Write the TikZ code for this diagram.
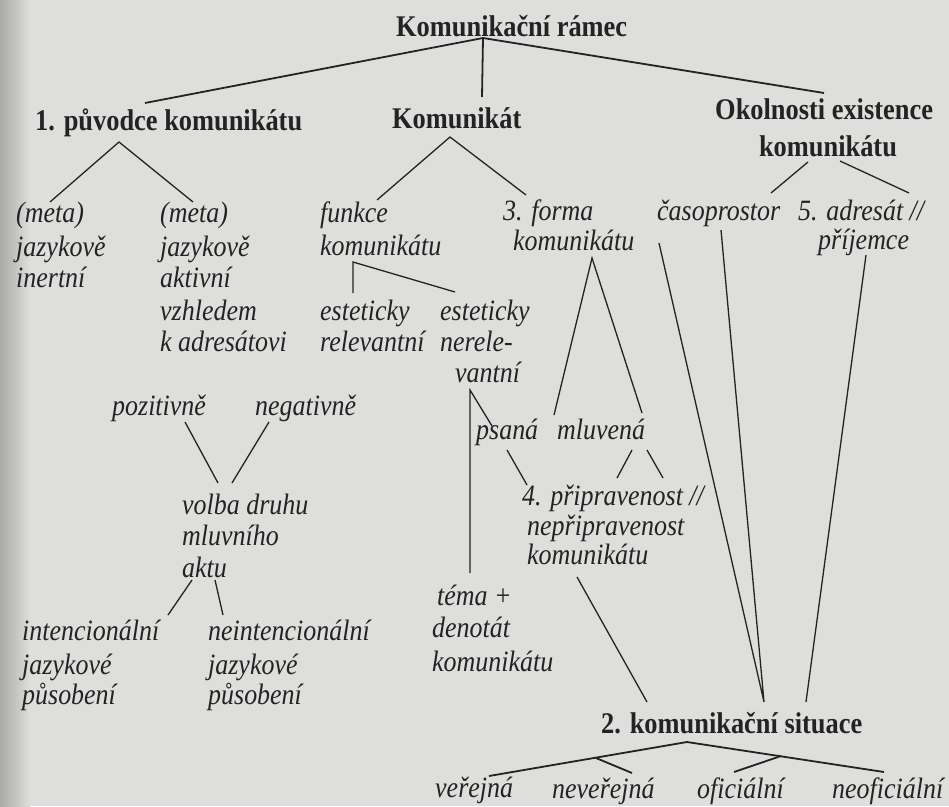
\documentclass[tikz,border=0pt]{standalone}
\usepackage{fontspec}
\setmainfont{Liberation Serif}
\newfontfamily\condserif{Liberation Serif}[FakeStretch=0.88]
\definecolor{paper}{RGB}{222,222,220}
\definecolor{shadow}{RGB}{170,170,168}
\definecolor{ink}{RGB}{35,35,35}
\tikzset{
  bt/.style={font=\condserif\fontsize{30}{34}\selectfont\bfseries, text=ink, inner sep=0pt, anchor=base west},
  it/.style={font=\condserif\fontsize{29.5}{34}\selectfont\itshape, text=ink, inner sep=0pt, anchor=base west},
  thickline/.style={draw=ink, line width=1.8pt},
  thinline/.style={draw=ink, line width=1.3pt},
}
\begin{document}
\begin{tikzpicture}[x=1pt,y=-1pt]
\useasboundingbox (0,0) rectangle (949,806);
\fill[paper] (0,0) rectangle (949,806);
\shade[left color=shadow, right color=paper] (0,0) rectangle (30,806);

% bold headings
\node[bt] (title) at (396,36) {Komunikační rámec};
\node[bt] (puv) at (35,130) {1. původce komunikátu};
\node[bt] (kom) at (392,128) {Komunikát};
\node[bt] (okol) at (715,119) {Okolnosti existence};
\node[bt, anchor=base] (okolb) at (828,156) {komunikátu};
\node[bt] (sit) at (601,733) {2. komunikační situace};

% italic items
\node[it] (m1a) at (16,222) {(meta)};
\node[it] (m1b) at (16,256) {jazykově};
\node[it] (m1c) at (16,287) {inertní};
\node[it] (m2a) at (160,222) {(meta)};
\node[it] (m2b) at (160,256) {jazykově};
\node[it] (m2c) at (160,287) {aktivní};
\node[it] (m2d) at (160,320) {vzhledem};
\node[it] (m2e) at (160,351) {k adresátovi};
\node[it] (fa) at (320,222) {funkce};
\node[it] (fb) at (320,255) {komunikátu};
\node[it] (e1a) at (320,320) {esteticky};
\node[it] (e1b) at (320,351) {relevantní};
\node[it] (e2a) at (440,320) {esteticky};
\node[it] (e2b) at (440,351) {nerele-};
\node[it] (e2c) at (455,382) {vantní};
\node[it] (foa) at (503,220) {3. forma};
\node[it] (fob) at (513,250) {komunikátu};
\node[it] (cas) at (657,220) {časoprostor};
\node[it] (adra) at (798,220) {5. adresát //};
\node[it] (adrb) at (818,249) {příjemce};
\node[it] (poz) at (112,415) {pozitivně};
\node[it] (neg) at (255,415) {negativně};
\node[it] (psa) at (476,439) {psaná};
\node[it] (mlu) at (557,439) {mluvená};
\node[it] (pra) at (522,505) {4. připravenost //};
\node[it] (prb) at (527,535) {nepřipravenost};
\node[it] (prc) at (527,564) {komunikátu};
\node[it] (voa) at (182,514) {volba druhu};
\node[it] (vob) at (182,545) {mluvního};
\node[it] (voc) at (182,577) {aktu};
\node[it] (tea) at (437,605) {téma +};
\node[it] (teb) at (432,637) {denotát};
\node[it] (tec) at (432,671) {komunikátu};
\node[it] (ina) at (22,640) {intencionální};
\node[it] (inb) at (22,674) {jazykové};
\node[it] (inc) at (22,704) {působení};
\node[it] (nia) at (208,640) {neintencionální};
\node[it] (nib) at (208,674) {jazykové};
\node[it] (nic) at (208,704) {působení};
\node[it] (ver) at (435,797) {veřejná};
\node[it] (nev) at (552,798) {neveřejná};
\node[it] (ofi) at (697,798) {oficiální};
\node[it] (neo) at (832,798) {neoficiální};

% connector points
\coordinate (t0) at (483,38);
\coordinate (t1) at (145,103);
\coordinate (t2) at (482,97);
\coordinate (t3) at (824,93);
\coordinate (p0) at (119,142);
\coordinate (p1) at (50,202);
\coordinate (p2) at (193,202);
\coordinate (k0) at (450,137);
\coordinate (k1) at (377,200);
\coordinate (k2) at (526,195);
\coordinate (o1s) at (808,162);
\coordinate (o1e) at (771,193);
\coordinate (o2s) at (840,161);
\coordinate (o2e) at (909,193);
\coordinate (f0) at (353,262);
\coordinate (f1) at (353,293);
\coordinate (f2) at (455,292);
\coordinate (v0) at (470,390);
\coordinate (v1) at (492,426);
\coordinate (v2) at (470,573);
\coordinate (fo0) at (592,258);
\coordinate (fo1) at (554,415);
\coordinate (fo2) at (642,413);
\coordinate (ps0) at (507,450);
\coordinate (ps1) at (527,485);
\coordinate (ml1s) at (632,450);
\coordinate (ml1e) at (617,478);
\coordinate (ml2s) at (647,450);
\coordinate (ml2e) at (663,478);
\coordinate (po0) at (185,422);
\coordinate (po1) at (218,483);
\coordinate (ne0) at (269,422);
\coordinate (ne1) at (232,483);
\coordinate (ak1s) at (192,580);
\coordinate (ak1e) at (168,615);
\coordinate (ak2s) at (215,580);
\coordinate (ak2e) at (223,615);
\coordinate (pr0) at (577,577);
\coordinate (pr1) at (647,702);
\coordinate (la) at (659,243);
\coordinate (lb) at (721,230);
\coordinate (lc) at (866,255);
\coordinate (lm) at (764,702);
\coordinate (ln) at (806,702);
\coordinate (s0) at (687,742);
\coordinate (s1) at (489,776);
\coordinate (s2) at (884,772);
\coordinate (s3s) at (596,758);
\coordinate (s3e) at (632,773);
\coordinate (s4s) at (781,756);
\coordinate (s4e) at (734,772);

% connectors
\draw[thickline] (t1) -- (t0) -- (t3);
\draw[thickline] (t0) -- (t2);
\draw[thinline] (p1) -- (p0) -- (p2);
\draw[thinline] (k1) -- (k0) -- (k2);
\draw[thinline] (o1s) -- (o1e);
\draw[thinline] (o2s) -- (o2e);
\draw[thinline] (f1) -- (f0) -- (f2);
\draw[thinline] (v1) -- (v0) -- (v2);
\draw[thinline] (fo1) -- (fo0) -- (fo2);
\draw[thinline] (ps0) -- (ps1);
\draw[thinline] (ml1s) -- (ml1e);
\draw[thinline] (ml2s) -- (ml2e);
\draw[thinline] (po0) -- (po1);
\draw[thinline] (ne0) -- (ne1);
\draw[thinline] (ak1s) -- (ak1e);
\draw[thinline] (ak2s) -- (ak2e);
\draw[thinline] (pr0) -- (pr1);
\draw[thinline] (la) -- (lm) -- (lb);
\draw[thinline] (lc) -- (ln);
\draw[thickline] (s1) -- (s0) -- (s2);
\draw[thickline] (s3s) -- (s3e);
\draw[thickline] (s4s) -- (s4e);
\end{tikzpicture}
\end{document}
